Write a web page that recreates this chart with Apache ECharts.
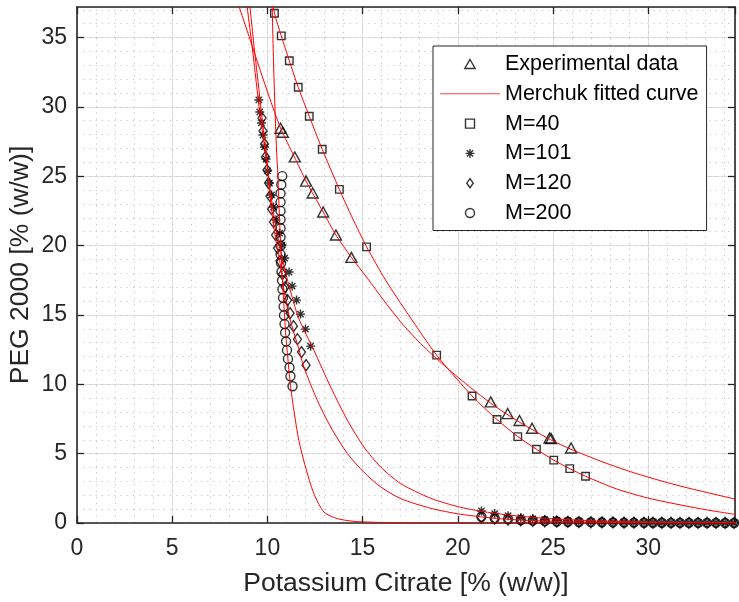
<!DOCTYPE html>
<html><head><meta charset="utf-8">
<script src="https://cdn.jsdelivr.net/npm/echarts@6/dist/echarts.min.js"></script>
<style>html,body{margin:0;padding:0;background:#fff}#c{width:739px;height:602px}</style>
</head><body><div id="c"></div>
<script>
// ---- axis ranges / ticks ----
const X_MAX = 34.56, Y_MAX = 37.2;
const MAJOR_STEP = 5, MINOR_STEP = 1;

// ---- Experimental data (triangles) ----
const expData = [[10.69,28.46],[10.81,28.17],[11.44,26.39],[12.03,24.65],[12.38,23.79],[12.93,22.42],[13.60,20.76],[14.41,19.15],[21.73,8.73],[22.62,7.89],[23.24,7.39],[23.90,6.83],[24.82,6.13],[24.90,6.09],[25.95,5.41]];
// ---- M=40 (squares) ----
const m40Data = [[10.37,36.75],[10.73,35.12],[11.15,33.33],[11.62,31.41],[12.20,29.32],[12.88,26.94],[13.78,24.05],[15.21,19.91],[18.89,12.10],[20.75,9.16],[22.06,7.46],[23.15,6.23],[24.13,5.32],[25.04,4.53],[25.88,3.92],[26.71,3.37]];
// ---- M=101 (asterisks) ----
const m101Top = [[9.55,30.50],[9.60,29.63],[9.69,28.84],[9.77,27.97],[9.85,27.11],[9.93,26.24],[10.01,25.38],[10.11,24.51],[10.22,23.65],[10.32,22.78],[10.45,21.84],[10.64,20.90],[10.77,20.04],[10.91,19.10],[11.14,18.09],[11.30,17.08],[11.53,16.07],[11.74,15.06],[12.00,13.98],[12.27,12.75]];
// ---- M=120 (diamonds) ----
const m120Top = [[9.72,29.20],[9.77,28.26],[9.85,27.32],[9.90,26.39],[9.98,25.45],[10.06,24.51],[10.14,23.57],[10.22,22.63],[10.32,21.70],[10.43,20.76],[10.53,19.82],[10.66,18.88],[10.79,17.94],[10.93,17.01],[11.06,16.07],[11.19,15.13],[11.37,14.19],[11.58,13.25],[11.79,12.32],[12.03,11.38]];
// ---- M=200 (circles) ----
const m200Top = [[10.78,25.01],[10.73,24.39],[10.69,23.76],[10.69,23.13],[10.69,22.50],[10.69,21.88],[10.69,21.25],[10.69,20.62],[10.69,19.99],[10.69,19.37],[10.72,18.74],[10.74,18.11],[10.77,17.48],[10.79,16.85],[10.82,16.23],[10.85,15.60],[10.87,14.97],[10.90,14.34],[10.93,13.72],[10.98,13.09],[11.03,12.46],[11.08,11.83],[11.16,11.21],[11.21,10.58],[11.32,9.86]];
// ---- salt-rich phase points (shared x) ----
const bottomX   = [21.24,21.94,22.64,23.31,23.94,24.57,25.20,25.78,26.36,26.99,27.57,28.15,28.73,29.25,29.78,30.25,30.72,31.20,31.67,32.14,32.62,33.09,33.56,34.04,34.51];
const m101BotY  = [0.87,0.68,0.53,0.39,0.30,0.24,0.19,0.15,0.12,0.10,0.08,0.07,0.06,0.05,0.04,0.04,0.03,0.03,0.03,0.02,0.02,0.02,0.02,0.01,0.01];
const m120BotY  = [0.40,0.31,0.25,0.19,0.15,0.12,0.10,0.08,0.06,0.05,0.04,0.04,0.03,0.03,0.02,0.02,0.02,0.02,0.01,0.01,0.01,0.01,0.01,0.01,0.01];
const m200BotY  = [0.45,0.34,0.28,0.22,0.17,0.14,0.11,0.09,0.07,0.06,0.05,0.04,0.03,0.03,0.02,0.02,0.02,0.01,0.01,0.01,0.01,0.01,0.01,0.00,0.00];

// ---- Merchuk fitted curves ----
const fitExp = [[8.35,37.9],[9.01,35.19],[9.53,33.02],[10.06,30.86],[10.69,28.48],[11.42,26.39],[12.03,24.65],[12.93,22.42],[13.60,20.76],[14.41,19.15],[15.25,17.65],[16.10,16.07],[17.00,14.50],[18.05,12.93],[19.45,11.16],[20.68,9.75],[21.73,8.64],[22.78,7.66],[23.83,6.80],[24.88,6.00],[25.94,5.32],[27.52,4.45],[29.09,3.69],[30.67,3.04],[32.25,2.47],[34.61,1.71]];
const fit40 = [[10.27,37.71],[10.37,36.75],[10.73,35.12],[11.15,33.33],[11.62,31.41],[12.20,29.32],[12.88,26.94],[13.78,24.05],[14.47,21.98],[15.21,19.91],[16.21,17.51],[17.42,14.99],[18.89,12.10],[20.75,9.16],[22.06,7.46],[23.15,6.23],[24.13,5.32],[25.04,4.53],[25.88,3.92],[26.71,3.37],[28.39,2.43],[30.14,1.75],[32.77,1.02],[34.61,0.61]];
const fit101 = [[8.87,37.93],[9.22,34.10],[9.43,31.57],[9.58,29.77],[9.80,27.61],[10.01,25.45],[10.22,23.28],[10.43,21.48],[10.69,19.67],[10.95,18.09],[11.27,16.43],[11.64,14.77],[12.44,12.46],[13.32,9.81],[14.20,7.41],[15.07,5.48],[15.95,4.04],[17.00,2.84],[18.58,1.78],[20.15,1.13],[21.73,0.74],[23.31,0.48],[25.41,0.27],[27.52,0.14],[30.14,0.06],[34.61,0.02]];
const fit120 = [[9.03,37.93],[9.32,34.10],[9.53,31.58],[9.72,29.20],[9.93,26.89],[10.16,23.28],[10.40,20.76],[10.64,18.95],[10.87,16.78],[11.11,15.13],[11.37,13.83],[11.64,12.60],[11.91,11.26],[12.62,8.85],[13.32,6.93],[14.20,5.01],[15.07,3.66],[15.95,2.60],[17.00,1.76],[18.58,1.06],[20.15,0.63],[22.26,0.30],[24.89,0.12],[27.52,0.05],[34.61,0.01]];
const fit200 = [[10.24,37.9],[10.32,33.39],[10.40,29.83],[10.48,26.89],[10.55,25.09],[10.64,21.83],[10.74,18.95],[10.85,16.07],[10.95,13.90],[11.06,12.10],[11.21,9.94],[11.39,8.13],[11.65,5.97],[12.00,4.04],[12.44,2.12],[12.97,0.79],[13.67,0.32],[14.54,0.12],[15.95,0.04],[18.05,0.01],[34.61,0.0]];

const FONT = "'Liberation Sans', Arial, Helvetica, sans-serif";
const AX = '#262626';
const TRI = 'path://M0,-10L8.66,5L-8.66,5Z';
const SQR = 'path://M-1,-1L1,-1L1,1L-1,1Z';
const DIA = 'path://M0,-1.4L1,0L0,1.4L-1,0Z';
const CIR = 'path://M1,0A1,1,0,1,1,-1,0A1,1,0,1,1,1,0Z';
const AST = 'path://M0,-1L0,1M-1,0L1,0M-0.7,-0.7L0.7,0.7M-0.7,0.7L0.7,-0.7';
const LINE_ICON = 'path://M0,0L60,0L60,1L0,1Z';

const hollow = {color:'transparent', borderColor:'#000', borderWidth:1.4};
const withBottom = (top, ys) => top.concat(bottomX.map((x,i)=>[x, ys[i]]));

function scatter(name, data, symbol, size){
  return {type:'scatter', name, data, symbol, symbolSize:size, symbolKeepAspect:false,
    itemStyle:hollow, z:3, silent:true, animation:false};
}
function curve(data){
  return {type:'line', name:'Merchuk fitted curve', data, symbol:'none', showSymbol:false, smooth:0.25,
    lineStyle:{color:'#ff0000', width:1}, itemStyle:{color:'#ff0000'}, z:5, silent:true, animation:false};
}

const chart = echarts.init(document.getElementById('c'), null, {renderer:'canvas'});
chart.setOption({
  animation:false,
  backgroundColor:'#fff',
  textStyle:{fontFamily:FONT},
  grid:{left:77, right:4, top:7, bottom:79, containLabel:false, outerBoundsMode:'none'},
  xAxis:[
    {type:'value', position:'bottom', min:0, max:X_MAX, interval:MAJOR_STEP,
     name:'Potassium Citrate [% (w/w)]', nameLocation:'middle', nameGap:47, nameMoveOverlap:false,
     nameTextStyle:{fontSize:26.5, color:AX, fontFamily:FONT},
     axisLine:{show:true, onZero:false, lineStyle:{color:AX, width:1.6}},
     axisTick:{show:true, inside:true, length:7, lineStyle:{color:AX, width:1.3}},
     axisLabel:{show:true, fontSize:23, color:AX, margin:14, fontFamily:FONT, showMaxLabel:false},
     splitLine:{show:true, lineStyle:{color:'#e0e0e0', width:1}}},
    {type:'value', position:'top', min:0, max:X_MAX, interval:MAJOR_STEP,
     axisLine:{show:true, onZero:false, lineStyle:{color:AX, width:1.6}},
     axisTick:{show:true, inside:true, length:7, lineStyle:{color:AX, width:1.3}},
     axisLabel:{show:false}, splitLine:{show:false}},
    {type:'value', position:'bottom', min:0, max:X_MAX, interval:MINOR_STEP,
     axisLine:{show:false}, axisTick:{show:false}, axisLabel:{show:false},
     splitLine:{show:true, lineStyle:{color:'#c4c4c4', width:1, type:[1.2,5]}}}
  ],
  yAxis:[
    {type:'value', position:'left', min:0, max:Y_MAX, interval:MAJOR_STEP,
     name:'PEG 2000 [% (w/w)]', nameLocation:'middle', nameGap:43, nameRotate:90, nameMoveOverlap:false,
     nameTextStyle:{fontSize:26.5, color:AX, fontFamily:FONT},
     axisLine:{show:true, onZero:false, lineStyle:{color:AX, width:1.6}},
     axisTick:{show:true, inside:true, length:7, lineStyle:{color:AX, width:1.3}},
     axisLabel:{show:true, fontSize:23, color:AX, margin:10, fontFamily:FONT, showMaxLabel:false},
     splitLine:{show:true, lineStyle:{color:'#e0e0e0', width:1}}},
    {type:'value', position:'right', min:0, max:Y_MAX, interval:MAJOR_STEP,
     axisLine:{show:true, onZero:false, lineStyle:{color:AX, width:1.6}},
     axisTick:{show:true, inside:true, length:7, lineStyle:{color:AX, width:1.3}},
     axisLabel:{show:false}, splitLine:{show:false}},
    {type:'value', position:'left', min:0, max:Y_MAX, interval:MINOR_STEP,
     axisLine:{show:false}, axisTick:{show:false}, axisLabel:{show:false},
     splitLine:{show:true, lineStyle:{color:'#c4c4c4', width:1, type:[1.2,5]}}}
  ],
  legend:{
    orient:'vertical', left:433, top:46, padding:[7,8,6.5,7],
    itemWidth:60, itemHeight:9, itemGap:7.8, selectedMode:false,
    backgroundColor:'#fff', borderColor:AX, borderWidth:1, borderRadius:0,
    textStyle:{fontSize:21.5, color:'#000', fontFamily:FONT},
    data:[
      {name:'Experimental data', icon:TRI, itemStyle:hollow},
      {name:'Merchuk fitted curve', icon:LINE_ICON, itemStyle:{color:'#ff4040', borderWidth:0}},
      {name:'M=40', icon:SQR, itemStyle:hollow},
      {name:'M=101', icon:AST, itemStyle:hollow},
      {name:'M=120', icon:DIA, itemStyle:hollow},
      {name:'M=200', icon:CIR, itemStyle:hollow}
    ]
  },
  series:[
    scatter('Experimental data', expData, TRI, [11,10]),
    scatter('M=40', m40Data, SQR, [7.5,7.5]),
    scatter('M=101', withBottom(m101Top, m101BotY), AST, [9,9]),
    scatter('M=120', withBottom(m120Top, m120BotY), DIA, [8,11]),
    scatter('M=200', withBottom(m200Top, m200BotY), CIR, [9,9]),
    curve(fitExp), curve(fit40), curve(fit101), curve(fit120), curve(fit200)
  ]
});
</script>
</body></html>
